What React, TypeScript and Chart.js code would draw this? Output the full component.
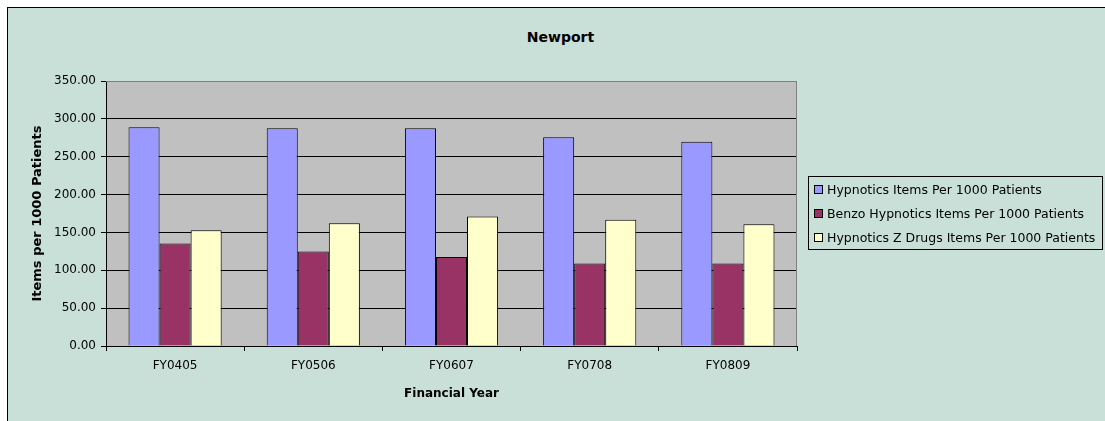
import React, { useEffect, useRef } from "react";
import { Chart, registerables } from "chart.js";

Chart.register(...registerables);

const categories = ["FY0405", "FY0506", "FY0607", "FY0708", "FY0809"];
const hypnotics = [288.9, 287.6, 287.6, 275.7, 269.9];
const benzo = [135.3, 124.7, 117.7, 108.9, 108.9];
const zDrugs = [152.9, 162.2, 171.0, 166.6, 160.9];
const seriesNames = [
  "Hypnotics Items Per 1000 Patients",
  "Benzo Hypnotics Items Per 1000 Patients",
  "Hypnotics Z Drugs Items Per 1000 Patients",
];
const seriesColors = ["#9999FF", "#993366", "#FFFFCC"];

const FONT = "'DejaVu Sans', Verdana, sans-serif";

const plotBg = {
  id: "plotBg",
  beforeDraw(chart: any) {
    const { ctx, chartArea } = chart;
    ctx.save();
    ctx.fillStyle = "#C0C0C0";
    ctx.fillRect(chartArea.left, chartArea.top, chartArea.right - chartArea.left, chartArea.bottom - chartArea.top);
    ctx.restore();
  },
  afterDatasetsDraw(chart: any) {
    const { ctx, chartArea } = chart;
    ctx.save();
    ctx.strokeStyle = "#808080";
    ctx.lineWidth = 1;
    ctx.beginPath();
    ctx.moveTo(chartArea.left, chartArea.top + 0.5);
    ctx.lineTo(chartArea.right - 0.5, chartArea.top + 0.5);
    ctx.lineTo(chartArea.right - 0.5, chartArea.bottom);
    ctx.stroke();
    ctx.restore();
  },
};

export default function App() {
  const ref = useRef<HTMLCanvasElement>(null);
  useEffect(() => {
    if (!ref.current) return;
    const datasets = [hypnotics, benzo, zDrugs].map((d, i) => ({
      label: seriesNames[i],
      data: d,
      backgroundColor: seriesColors[i],
      borderColor: "#000000",
      borderWidth: 1,
      categoryPercentage: 0.674,
      barPercentage: 1.0,
    }));
    const chart = new Chart(ref.current, {
      type: "bar",
      data: { labels: categories, datasets },
      plugins: [plotBg],
      options: {
        animation: false,
        responsive: false,
        maintainAspectRatio: false,
        layout: { padding: { left: 20, top: 81, right: 308, bottom: 12 } },
        plugins: {
          legend: { display: false },
          tooltip: { enabled: false },
          title: { display: false },
        },
        scales: {
          x: {
            offset: true,
            grid: {
              offset: true,
              drawOnChartArea: false,
              drawTicks: true,
              tickLength: 5,
              color: "#000000",
            },
            border: { display: true, color: "#000000", width: 1 },
            ticks: { color: "#000000", font: { family: FONT, size: 12 }, padding: 8, maxRotation: 0 },
            title: {
              display: true,
              text: "Financial Year",
              color: "#000000",
              font: { family: FONT, size: 12, weight: "bold" },
              padding: { top: 0, bottom: 8 },
            },
            afterFit(scale: any) {
              scale.height = 421 - 12 - 346;
            },
          },
          y: {
            min: 0,
            max: 350,
            ticks: {
              stepSize: 50,
              color: "#000000",
              font: { family: FONT, size: 12 },
              padding: 5,
              callback: (v: any) => Number(v).toFixed(2),
            },
            grid: {
              color: (c: any) => (c.tick && c.tick.value === 350 ? "#808080" : "#000000"),
              tickColor: "#000000",
              tickLength: 5,
              lineWidth: 1,
            },
            border: { display: true, color: "#000000", width: 1 },
            title: {
              display: true,
              text: "Items per 1000 Patients",
              color: "#000000",
              font: { family: FONT, size: 13, weight: "bold" },
              padding: { top: 10, bottom: 0 },
            },
            afterFit(scale: any) {
              scale.width = 106 - 20;
            },
          },
        },
      },
    });
    return () => chart.destroy();
  }, []);

  return (
    <div style={{ position: "fixed", left: 0, top: 0, width: 1105, height: 421, background: "#ffffff", overflow: "hidden", fontFamily: FONT }}>
      <div
        style={{
          position: "absolute",
          left: 7,
          top: 7,
          width: 1110,
          height: 430,
          border: "1px solid #000000",
          background: "#C9E0D8",
        }}
      />
      <div
        style={{
          position: "absolute",
          left: 0,
          width: 1105,
          top: 27,
          textAlign: "center",
          fontWeight: "bold",
          fontSize: 14,
          color: "#000",
          lineHeight: "20px",
          paddingLeft: 16,
          boxSizing: "border-box",
        }}
      >
        Newport
      </div>
      <canvas ref={ref} width={1105} height={421} style={{ position: "absolute", left: 0, top: 0, width: 1105, height: 421 }} />
      <div
        style={{
          position: "absolute",
          left: 808,
          top: 176,
          width: 293,
          height: 72,
          border: "1px solid #000000",
          fontSize: 12.5,
          color: "#000",
        }}
      >
        {seriesNames.map((n, i) => (
          <div key={n} style={{ position: "absolute", left: 5, top: 4 + i * 24, height: 18, lineHeight: "18px", whiteSpace: "nowrap" }}>
            <span
              style={{
                display: "inline-block",
                width: 7,
                height: 7,
                border: "1px solid #000",
                background: seriesColors[i],
                marginRight: 4,
                verticalAlign: "middle",
                position: "relative",
                top: -1,
              }}
            />
            {n}
          </div>
        ))}
      </div>
    </div>
  );
}
